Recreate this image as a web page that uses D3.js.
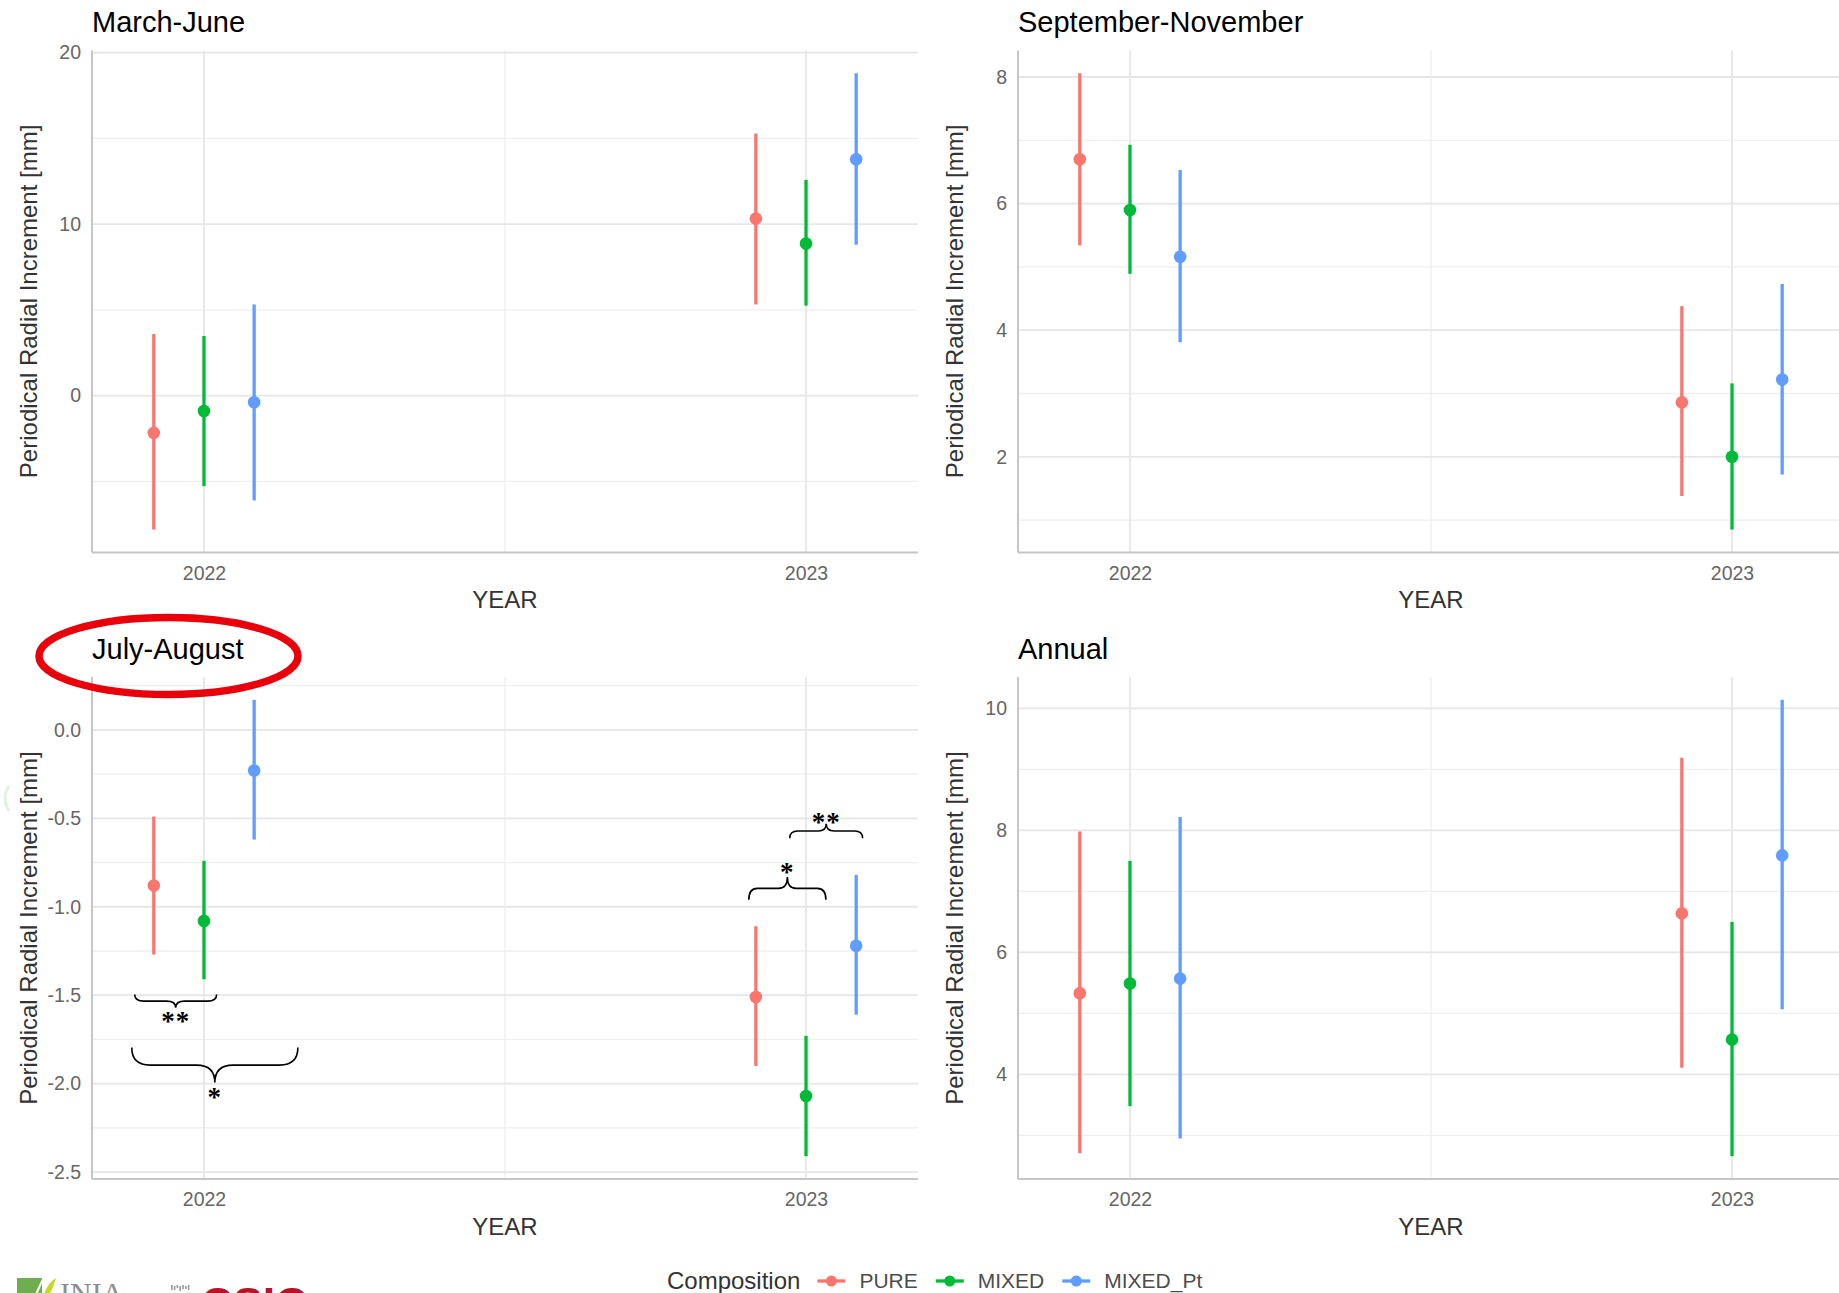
<!DOCTYPE html>
<html>
<head>
<meta charset="utf-8">
<script src="https://cdn.jsdelivr.net/npm/d3@7"></script>
<style>
  html, body { margin: 0; padding: 0; background: #ffffff; }
  svg { display: block; }
  text { font-family: "Liberation Sans", Arial, sans-serif; }
</style>
</head>
<body>
<svg id="chart" width="1839" height="1293"></svg>
<script>
// ---- data -------------------------------------------------------------
const years = [2022, 2023];
const compositions = ["PURE", "MIXED", "MIXED_Pt"];
const compositionColors = ["#F8766D", "#00BA38", "#619CFF"];
const seasons = ["March-June", "September-November", "July-August", "Annual"];

// values ordered: 2022 PURE, MIXED, MIXED_Pt, then 2023 PURE, MIXED, MIXED_Pt
const marchJuneMean = [-2.17, -0.90, -0.39, 10.32, 8.87, 13.78];
const marchJuneLow  = [-7.81, -5.28, -6.11, 5.32, 5.25, 8.80];
const marchJuneHigh = [3.59, 3.48, 5.32, 15.28, 12.58, 18.80];

const sepNovMean = [6.70, 5.90, 5.16, 2.86, 2.00, 3.22];
const sepNovLow  = [5.34, 4.89, 3.81, 1.38, 0.85, 1.72];
const sepNovHigh = [8.06, 6.93, 6.53, 4.38, 3.16, 4.73];

const julAugMean = [-0.88, -1.08, -0.23, -1.51, -2.07, -1.22];
const julAugLow  = [-1.27, -1.41, -0.62, -1.90, -2.41, -1.61];
const julAugHigh = [-0.49, -0.74, 0.17, -1.11, -1.73, -0.82];

const annualMean = [5.33, 5.49, 5.57, 6.64, 4.57, 7.59];
const annualLow  = [2.71, 3.48, 2.95, 4.11, 2.66, 5.07];
const annualHigh = [7.98, 7.50, 8.22, 9.19, 6.50, 10.14];

// axis breaks
const marchJuneTicks = [0, 10, 20];
const marchJuneTickLabels = ["0", "10", "20"];
const marchJuneMinor = [-5, 5, 15];

const sepNovTicks = [2, 4, 6, 8];
const sepNovTickLabels = ["2", "4", "6", "8"];
const sepNovMinor = [1, 3, 5, 7];

const julAugTicks = [-2.5, -2, -1.5, -1, -0.5, 0];
const julAugTickLabels = ["-2.5", "-2.0", "-1.5", "-1.0", "-0.5", "0.0"];
const julAugMinor = [-2.25, -1.75, -1.25, -0.75, -0.25, 0.25];

const annualTicks = [4, 6, 8, 10];
const annualTickLabels = ["4", "6", "8", "10"];
const annualMinor = [3, 5, 7, 9];

const yearMinor = [2022.5];

// significance brackets (July-August panel)
const bracketX0 = [2021.885, 2021.880, 2022.905, 2022.973];
const bracketX1 = [2022.021, 2022.156, 2023.033, 2023.094];
const bracketEnd = [-1.496, -1.796, -0.960, -0.612];
const bracketTip = [-1.571, -1.994, -0.832, -0.531];
const bracketLabelY = [-1.627, -2.054, -0.781, -0.499];
const bracketLabels = ["**", "*", "*", "**"];

// ---- layout -------------------------------------------------------------
const colLeft = [92, 1018];
const rowTop = [50.4, 677];
const panelW = 826;
const panelH = 502;
const xPad = 0.186;          // horizontal expansion around the two years
const dodge = 1 / 12;        // horizontal offset between compositions

const tickColor = "#666666";
const titleColor = "#333333";

const panels = [
  { title: seasons[0], mean: marchJuneMean, low: marchJuneLow, high: marchJuneHigh,
    ticks: marchJuneTicks, labels: marchJuneTickLabels, minor: marchJuneMinor, col: 0, row: 0 },
  { title: seasons[1], mean: sepNovMean, low: sepNovLow, high: sepNovHigh,
    ticks: sepNovTicks, labels: sepNovTickLabels, minor: sepNovMinor, col: 1, row: 0 },
  { title: seasons[2], mean: julAugMean, low: julAugLow, high: julAugHigh,
    ticks: julAugTicks, labels: julAugTickLabels, minor: julAugMinor, col: 0, row: 1, brackets: true },
  { title: seasons[3], mean: annualMean, low: annualLow, high: annualHigh,
    ticks: annualTicks, labels: annualTickLabels, minor: annualMinor, col: 1, row: 1 }
];

const svg = d3.select("#chart");
svg.append("rect").attr("width", 1839).attr("height", 1293).attr("fill", "#ffffff");

function bracePath(x0, x1, yEnd, yTip) {
  const xc = (x0 + x1) / 2;
  const yMid = (yEnd + yTip) / 2;
  const r = (x1 - x0) * 0.11;
  const p = d3.path();
  p.moveTo(x0, yEnd);
  p.quadraticCurveTo(x0, yMid, x0 + r, yMid);
  p.lineTo(xc - r, yMid);
  p.quadraticCurveTo(xc, yMid, xc, yTip);
  p.quadraticCurveTo(xc, yMid, xc + r, yMid);
  p.lineTo(x1 - r, yMid);
  p.quadraticCurveTo(x1, yMid, x1, yEnd);
  return p.toString();
}

panels.forEach(pn => {
  const left = colLeft[pn.col], right = left + panelW;
  const top = rowTop[pn.row], bottom = top + panelH;
  const g = svg.append("g");

  const x = d3.scaleLinear().domain([years[0] - xPad, years[1] + xPad]).range([left, right]);
  const lo = d3.min(pn.low), hi = d3.max(pn.high), pad = (hi - lo) * 0.05;
  const y = d3.scaleLinear().domain([lo - pad, hi + pad]).range([bottom, top]);

  // grid
  g.append("g").selectAll("line").data(pn.minor).join("line")
    .attr("x1", left).attr("x2", right)
    .attr("y1", d => y(d)).attr("y2", d => y(d))
    .attr("stroke", "#efefef").attr("stroke-width", 1.3);
  g.append("g").selectAll("line").data(yearMinor).join("line")
    .attr("x1", d => x(d)).attr("x2", d => x(d))
    .attr("y1", top).attr("y2", bottom)
    .attr("stroke", "#efefef").attr("stroke-width", 1.3);
  g.append("g").selectAll("line").data(pn.ticks).join("line")
    .attr("x1", left).attr("x2", right)
    .attr("y1", d => y(d)).attr("y2", d => y(d))
    .attr("stroke", "#e6e6e6").attr("stroke-width", 1.8);
  g.append("g").selectAll("line").data(years).join("line")
    .attr("x1", d => x(d)).attr("x2", d => x(d))
    .attr("y1", top).attr("y2", bottom)
    .attr("stroke", "#e6e6e6").attr("stroke-width", 1.8);

  // axis lines
  g.append("line").attr("x1", left).attr("x2", left).attr("y1", top).attr("y2", bottom)
    .attr("stroke", "#c6c6c6").attr("stroke-width", 2);
  g.append("line").attr("x1", left).attr("x2", right).attr("y1", bottom).attr("y2", bottom)
    .attr("stroke", "#c6c6c6").attr("stroke-width", 2);

  // axes
  const yAxis = g.append("g").attr("transform", `translate(${left},0)`)
    .call(d3.axisLeft(y).tickValues(pn.ticks).tickFormat((d, i) => pn.labels[i]).tickSize(0).tickPadding(11));
  yAxis.select(".domain").remove();
  yAxis.attr("font-size", null).attr("font-family", null);
  yAxis.selectAll("text").attr("font-size", 19.5).attr("fill", tickColor);

  const xAxis = g.append("g").attr("transform", `translate(0,${bottom})`)
    .call(d3.axisBottom(x).tickValues(years).tickFormat(d3.format("d")).tickSize(0).tickPadding(13.5));
  xAxis.select(".domain").remove();
  xAxis.attr("font-size", null).attr("font-family", null);
  xAxis.selectAll("text").attr("font-size", 19.5).attr("fill", tickColor);

  // axis titles
  g.append("text").attr("x", (left + right) / 2).attr("y", bottom + 55.5)
    .attr("text-anchor", "middle").attr("font-size", 24).attr("fill", titleColor)
    .text("YEAR");
  g.append("text")
    .attr("transform", `translate(${left - 55},${(top + bottom) / 2}) rotate(-90)`)
    .attr("text-anchor", "middle").attr("font-size", 24).attr("fill", titleColor)
    .text("Periodical Radial Increment [mm]");

  // panel title
  g.append("text").attr("x", left).attr("y", top - 18.5)
    .attr("font-size", 29).attr("fill", "#000000").text(pn.title);

  // point ranges
  const rows = pn.mean.map((m, i) => ({
    year: years[Math.floor(i / 3)], c: i % 3, mean: m, low: pn.low[i], high: pn.high[i]
  }));
  const pr = g.append("g").selectAll("g").data(rows).join("g");
  pr.append("line")
    .attr("x1", d => x(d.year + (d.c - 1) * dodge)).attr("x2", d => x(d.year + (d.c - 1) * dodge))
    .attr("y1", d => y(d.low)).attr("y2", d => y(d.high))
    .attr("stroke", d => compositionColors[d.c]).attr("stroke-width", 3.3);
  pr.append("circle")
    .attr("cx", d => x(d.year + (d.c - 1) * dodge)).attr("cy", d => y(d.mean))
    .attr("r", 6.3).attr("fill", d => compositionColors[d.c]);

  if (pn.brackets) {
    const ann = g.append("g");
    bracketLabels.forEach((lab, i) => {
      ann.append("path")
        .attr("d", bracePath(x(bracketX0[i]), x(bracketX1[i]), y(bracketEnd[i]), y(bracketTip[i])))
        .attr("fill", "none").attr("stroke", "#000").attr("stroke-width", 1.6);
      ann.append("text")
        .attr("x", x((bracketX0[i] + bracketX1[i]) / 2)).attr("y", y(bracketLabelY[i]) + 12.5)
        .attr("text-anchor", "middle").attr("font-size", 27).attr("font-weight", "bold")
        .attr("letter-spacing", 1)
        .style("font-family", "'Liberation Serif', 'Times New Roman', serif")
        .attr("fill", "#000").text(lab);
    });

    // red highlight around the panel title
    g.append("ellipse")
      .attr("cx", left + 76.5).attr("cy", top - 21).attr("rx", 129.5).attr("ry", 38.5)
      .attr("fill", "none").attr("stroke", "#e8000b").attr("stroke-width", 7.5);
  }
});

// ---- legend -------------------------------------------------------------
const legend = svg.append("g");
const legTitle = legend.append("text").attr("x", 667).attr("y", 1289)
  .attr("font-size", 24).attr("fill", titleColor).text("Composition");
let cursor = 667 + legTitle.node().getComputedTextLength() + 17;
compositions.forEach((name, i) => {
  const kx = cursor;
  legend.append("line").attr("x1", kx).attr("x2", kx + 28).attr("y1", 1281).attr("y2", 1281)
    .attr("stroke", compositionColors[i]).attr("stroke-width", 3.3);
  legend.append("circle").attr("cx", kx + 14).attr("cy", 1281).attr("r", 5.5)
    .attr("fill", compositionColors[i]);
  const t = legend.append("text").attr("x", kx + 42).attr("y", 1288)
    .attr("font-size", 21).attr("fill", "#4d4d4d").text(name);
  cursor = kx + 42 + t.node().getComputedTextLength() + 18;
});

// ---- institution logos (cut by the bottom edge) -------------------------
const logos = svg.append("g");
logos.append("rect").attr("x", 17).attr("y", 1278).attr("width", 25).attr("height", 20).attr("fill", "#70ad4e");
logos.append("path").attr("d", "M33,1298 L36,1298 L42,1283 L42,1279 Z").attr("fill", "#ffffff");
logos.append("path").attr("d", "M43,1298 Q46,1284 56,1278 Q53,1290 47,1298 Z").attr("fill", "#c9d72c");
logos.append("text").attr("x", 60).attr("y", 1303).attr("font-size", 30)
  .style("font-family", "'Liberation Serif', 'Times New Roman', serif")
  .attr("fill", "#8c8c8c").text("INIA");
logos.append("g").selectAll("rect").data([0, 1, 2, 3, 4, 5, 6]).join("rect")
  .attr("x", d => 171 + d * 2.8).attr("y", d => 1285 + (d % 2)).attr("width", 1.6).attr("height", d => 5 - (d % 3))
  .attr("fill", "#9a9a9a");
logos.append("text").attr("x", 201).attr("y", 1319).attr("font-size", 44.5).attr("font-weight", "bold")
  .attr("fill", "#b3152a").text("CSIC");

// faint mark on the left margin
svg.append("path").attr("d", "M9,786 Q1,798 9,811").attr("fill", "none")
  .attr("stroke", "#e2f1e3").attr("stroke-width", 3);
</script>
</body>
</html>
